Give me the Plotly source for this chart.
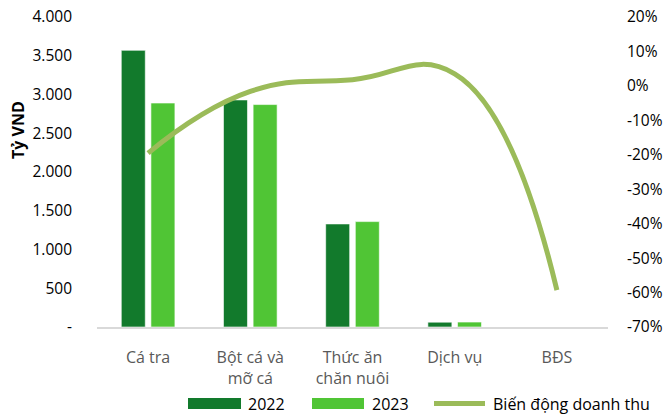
import plotly.graph_objects as go

categories = ["Cá tra", "Bột cá và<br>mỡ cá", "Thức ăn<br>chăn nuôi", "Dịch vụ", "BĐS"]
rev_2022 = [3570, 2930, 1330, 62, 0]
rev_2023 = [2890, 2870, 1360, 64, 0]
change_pct = [-19.5, -1.6, 1.8, 3.5, -59.3]

left_ticks = [0, 500, 1000, 1500, 2000, 2500, 3000, 3500, 4000]
left_ticktext = ["-", "500", "1.000", "1.500", "2.000", "2.500", "3.000", "3.500", "4.000"]
right_ticks = [-70, -60, -50, -40, -30, -20, -10, 0, 10, 20]
right_ticktext = ["-70%", "-60%", "-50%", "-40%", "-30%", "-20%", "-10%", "0%", "10%", "20%"]

C22 = "#127A2C"
C23 = "#50C535"
CL = "#9BBB59"
FONT = "Open Sans"

fig = go.Figure()
fig.add_trace(go.Bar(x=categories, y=rev_2022, name="2022", marker=dict(color=C22, line=dict(color="rgba(255,255,255,0.6)", width=1))))
fig.add_trace(go.Bar(x=categories, y=rev_2023, name="2023", marker=dict(color=C23, line=dict(color="rgba(255,255,255,0.6)", width=1))))
fig.add_trace(go.Scatter(x=categories, y=change_pct, name="Biến động doanh thu", yaxis="y2", mode="lines",
                         line=dict(color=CL, width=5, shape="spline", smoothing=1.3)))

fig.update_layout(
    width=670, height=414,
    margin=dict(l=97, r=62, t=17, b=87),
    paper_bgcolor="white", plot_bgcolor="white",
    font=dict(family=FONT, size=16, color="#000000"),
    showlegend=False,
    barmode="group", bargap=0.42, bargroupgap=0.19,
    xaxis=dict(showline=True, linecolor="#D9D9D9", linewidth=1.5, showgrid=False, ticks="",
               tickfont=dict(color="#595959", size=16), ticklabelstandoff=15, automargin=False),
    yaxis=dict(range=[0, 4000], tickvals=left_ticks, ticktext=left_ticktext, showgrid=False,
               zeroline=False, showline=False, ticklabelstandoff=24, tickfont=dict(size=15.5),
               automargin=False),
    yaxis2=dict(range=[-70, 20], tickvals=right_ticks, ticktext=right_ticktext, overlaying="y", side="right",
                showgrid=False, zeroline=False, showline=False, ticklabelstandoff=18, tickfont=dict(size=15.5),
                automargin=False),
)

fig.add_annotation(text="<b>Tỷ VND</b>", xref="paper", yref="paper", x=-0.155, y=0.635,
                   textangle=-90, showarrow=False, font=dict(size=16, color="#000000"),
                   xanchor="center", yanchor="middle")

# manual legend
def px(x):
    return (x - 97) / 511

def py(y):
    return (327 - y) / 310

fig.add_shape(type="rect", xref="paper", yref="paper", x0=px(188), x1=px(241), y0=py(409), y1=py(398),
              fillcolor=C22, line=dict(width=0))
fig.add_shape(type="rect", xref="paper", yref="paper", x0=px(312), x1=px(364), y0=py(409), y1=py(398),
              fillcolor=C23, line=dict(width=0))
fig.add_shape(type="line", xref="paper", yref="paper", x0=px(434), x1=px(485), y0=py(403.5), y1=py(403.5),
              line=dict(color=CL, width=5))
for txt, x in [("2022", 246), ("2023", 370), ("Biến động doanh thu", 491)]:
    fig.add_annotation(text=txt, xref="paper", yref="paper", x=px(x), y=py(403.5), showarrow=False,
                       xanchor="left", yanchor="middle", font=dict(size=16, color="#000000"))

fig.write_html("out.html", config={"displayModeBar": False},
               post_script="document.body.style.margin='0';")
